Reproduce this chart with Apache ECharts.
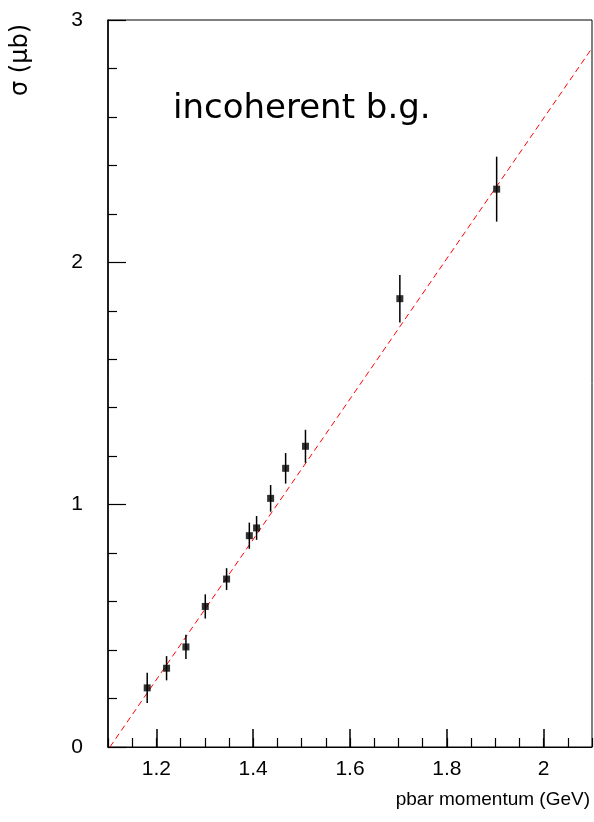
<!DOCTYPE html>
<html>
<head>
<meta charset="utf-8">
<script src="https://cdn.jsdelivr.net/npm/echarts@6/dist/echarts.min.js"></script>
<style>html,body{margin:0;padding:0;background:#fff;}#c{width:594px;height:822px;}</style>
</head>
<body>
<div id="c"></div>
<script>
// Data
var momentum = [1.181, 1.221, 1.261, 1.301, 1.345, 1.392, 1.407, 1.436, 1.467, 1.508, 1.703, 1.903];
var sigma    = [0.244, 0.325, 0.413, 0.580, 0.693, 0.872, 0.904, 1.026, 1.150, 1.241, 1.850, 2.302];
var sigmaErr = [0.062, 0.050, 0.050, 0.050, 0.045, 0.054, 0.049, 0.055, 0.063, 0.068, 0.098, 0.134];
var fitX = [1.104, 2.1];
var fitY = [0, 2.884];
var titleText = 'incoherent b.g.';
var xTitle = 'pbar momentum (GeV)';
var yTitle = 'σ (μb)';

var FONT = 'Liberation Sans';
var chart = echarts.init(document.getElementById('c'), null, {renderer: 'canvas'});

var pts = momentum.map(function (x, i) { return [x, sigma[i]]; });
var errData = momentum.map(function (x, i) { return [x, sigma[i] - sigmaErr[i], sigma[i] + sigmaErr[i]]; });
var fitData = fitX.map(function (x, i) { return [x, fitY[i]]; });

chart.setOption({
  animation: false,
  backgroundColor: '#fff',
  grid: {left: 108, top: 20, right: 2, bottom: 75, show: true, borderColor: '#000', borderWidth: 1, backgroundColor: 'transparent'},
  xAxis: [{
    type: 'value', min: 1.1, max: 2.1, splitNumber: 5,
    axisLine: {show: true, lineStyle: {color: '#000', width: 1}},
    axisTick: {show: true, inside: true, length: 18, lineStyle: {color: '#000', width: 1.5}},
    axisLabel: {show: true, showMinLabel: false, showMaxLabel: false, margin: 12, color: '#000', fontSize: 21, fontFamily: FONT},
    splitLine: {show: false}
  }, {
    type: 'value', min: 1.1, max: 2.1, interval: 0.05, position: 'bottom',
    axisLine: {show: false},
    axisTick: {show: true, inside: true, length: 9, lineStyle: {color: '#000', width: 1.2}},
    axisLabel: {show: false},
    splitLine: {show: false}
  }],
  yAxis: {
    type: 'value', min: 0, max: 3, interval: 1,
    axisLine: {show: true, lineStyle: {color: '#000', width: 1.5}},
    axisTick: {show: true, inside: true, length: 18, lineStyle: {color: '#000', width: 1.2}},
    minorTick: {show: true, splitNumber: 5, length: 9, lineStyle: {color: '#000', width: 1.2}},
    axisLabel: {show: true, margin: 25, color: '#000', fontSize: 21, fontFamily: FONT},
    splitLine: {show: false}
  },
  series: [{
    type: 'line', data: fitData, xAxisIndex: 0, symbol: 'none', silent: true,
    lineStyle: {color: '#ff0000', width: 1, type: [6, 4]}, z: 1
  }, {
    type: 'custom', xAxisIndex: 0, data: errData, z: 2,
    renderItem: function (params, api) {
      var lo = api.coord([api.value(0), api.value(1)]);
      var hi = api.coord([api.value(0), api.value(2)]);
      return {type: 'line', shape: {x1: lo[0], y1: lo[1], x2: hi[0], y2: hi[1]}, style: {stroke: '#000', lineWidth: 1.5}};
    }
  }, {
    type: 'scatter', xAxisIndex: 0, data: pts, symbol: 'rect', symbolSize: 7, z: 3,
    itemStyle: {color: '#000'}
  }],
  graphic: [
    {type: 'text', x: 173, y: 92, style: {text: titleText, fontSize: 34, fontFamily: 'DejaVu Sans', fill: '#000', verticalAlign: 'top'}},
    {type: 'text', x: 590, y: 800, style: {text: xTitle, fontSize: 19, fontFamily: FONT, fill: '#000', align: 'right', verticalAlign: 'middle'}},
    {type: 'text', x: 21, y: 60, rotation: Math.PI / 2, style: {text: yTitle, fontSize: 24, fontFamily: 'DejaVu Sans', fill: '#000', align: 'center', verticalAlign: 'middle'}}
  ]
});
</script>
</body>
</html>
